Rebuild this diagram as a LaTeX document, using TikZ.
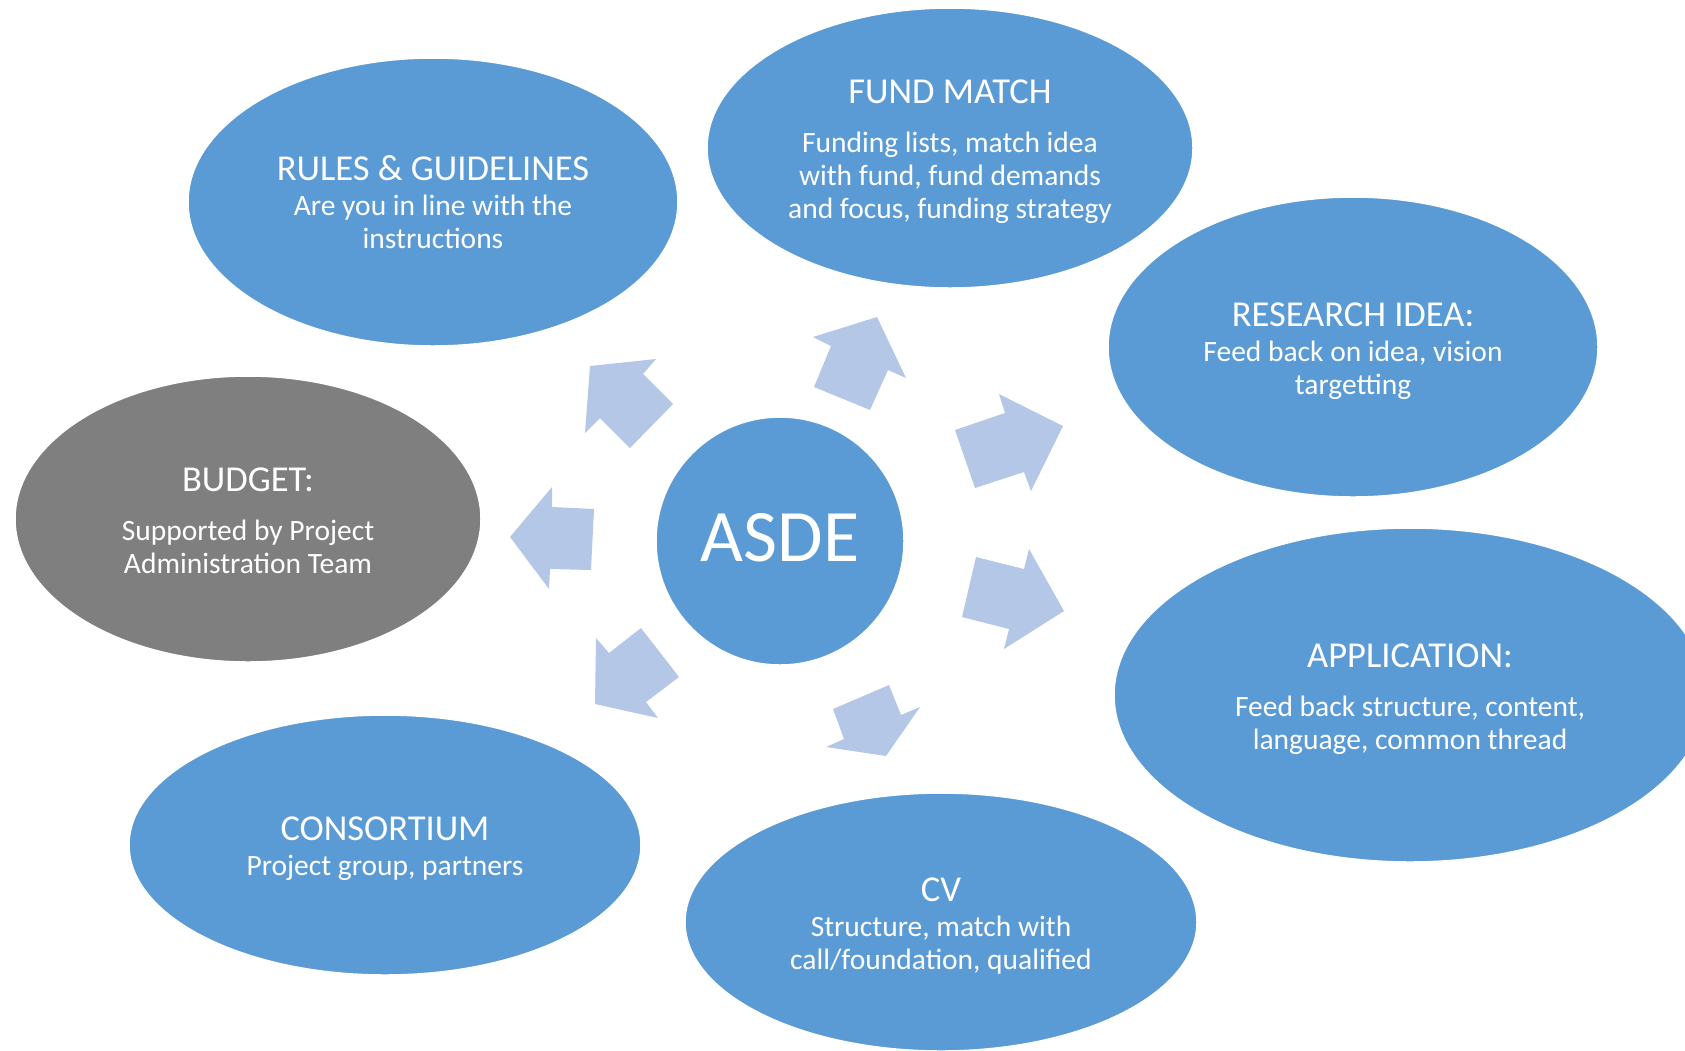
\documentclass[tikz,border=0pt]{standalone}
\usepackage{fontspec}
\setmainfont{Carlito}
\usetikzlibrary{shapes.geometric}

\definecolor{blau}{HTML}{5B9BD5}
\definecolor{grau}{HTML}{7F7F7F}
\definecolor{hellblau}{HTML}{B4C7E7}

\begin{document}
\begin{tikzpicture}[x=1pt,y=-1pt]
\useasboundingbox (0,0) rectangle (1685,1050);
\clip (0,0) rectangle (1685,1050);

\tikzset{blase/.style={ellipse,fill=blau,draw=white,line width=1.5pt,inner sep=0pt},
	schrift/.style={text=white,align=center,inner sep=0pt,
	font=\fontsize{29.5}{33}\selectfont}}

\def\titel#1{{\fontsize{36.5}{33}\selectfont #1}}

\def\pfeil#1#2#3#4#5#6#7{
	\fill[color=hellblau] (#1)--(#2)--(#3)--(#4)--(#5)--(#6)--(#7)--cycle;
}

% Blasen
\node[blase,minimum width=490pt,minimum height=288pt] (regeln) at (433,202) {};
\node[blase,minimum width=486pt,minimum height=280pt] (fonds) at (950,148) {};
\node[blase,minimum width=490pt,minimum height=300pt] (idee) at (1353,347) {};
\node[blase,minimum width=592pt,minimum height=334pt] (antrag) at (1410,695) {};
\node[blase,minimum width=512pt,minimum height=258pt] (cv) at (941,922) {};
\node[blase,minimum width=512pt,minimum height=260pt] (konsortium) at (385,845) {};
\node[blase,fill=grau,minimum width=466pt,minimum height=286pt] (budget) at (248,519) {};

% Texte
\node[schrift] (regeln-t) at ([yshift=-0.5pt]regeln.center)
	{\titel{RULES \& GUIDELINES}\\[2pt] Are you in line with the\\ instructions};
\node[schrift] (fonds-t) at ([yshift=-4pt]fonds.center)
	{\titel{FUND MATCH}\\[16pt] Funding lists, match idea\\ with fund, fund demands\\ and focus, funding strategy};
\node[schrift] (idee-t) at ([yshift=-4pt]idee.center)
	{\titel{RESEARCH IDEA:}\\[2pt] Feed back on idea, vision\\ targetting};
\node[schrift] (antrag-t) at ([yshift=-4pt]antrag.center)
	{\titel{APPLICATION:}\\[16pt] Feed back structure, content,\\ language, common thread};
\node[schrift] (cv-t) at ([yshift=-4pt]cv.center)
	{\titel{CV}\\[2pt] Structure, match with\\ call/foundation, qualified};
\node[schrift] (konsortium-t) at ([yshift=-4pt]konsortium.center)
	{\titel{CONSORTIUM}\\[2pt] Project group, partners};
\node[schrift] (budget-t) at ([yshift=-2pt]budget.center)
	{\titel{BUDGET:}\\[16pt] Supported by Project\\ Administration Team};

% Mitte
\node[blase,circle,minimum size=248pt] (asde) at (780,541) {};
\node[schrift,font=\fontsize{74}{80}\selectfont] (asde-t) at ([yshift=3pt]asde.center) {ASDE};

% Pfeile
\pfeil{590,366}{656,359}{643,374}{673,404}{630,448}{600,418}{585,433}
\pfeil{877,317}{906,378}{888,370}{870,410}{814,387}{831,346}{813,337}
\pfeil{1063,426}{1031,491}{1024,472}{975,488}{955,430}{1005,413}{999,394}
\pfeil{1064,611}{1004,649}{1009,629}{962,617}{976,557}{1024,569}{1029,549}
\pfeil{886,756}{826,747}{844,739}{833,709}{889,685}{901,715}{920,707}
\pfeil{595,704}{596,638}{609,653}{641,628}{679,677}{646,702}{658,718}
\pfeil{510,537}{552,487}{552,507}{594,509}{591,570}{550,569}{549,589}

\end{tikzpicture}
\end{document}
